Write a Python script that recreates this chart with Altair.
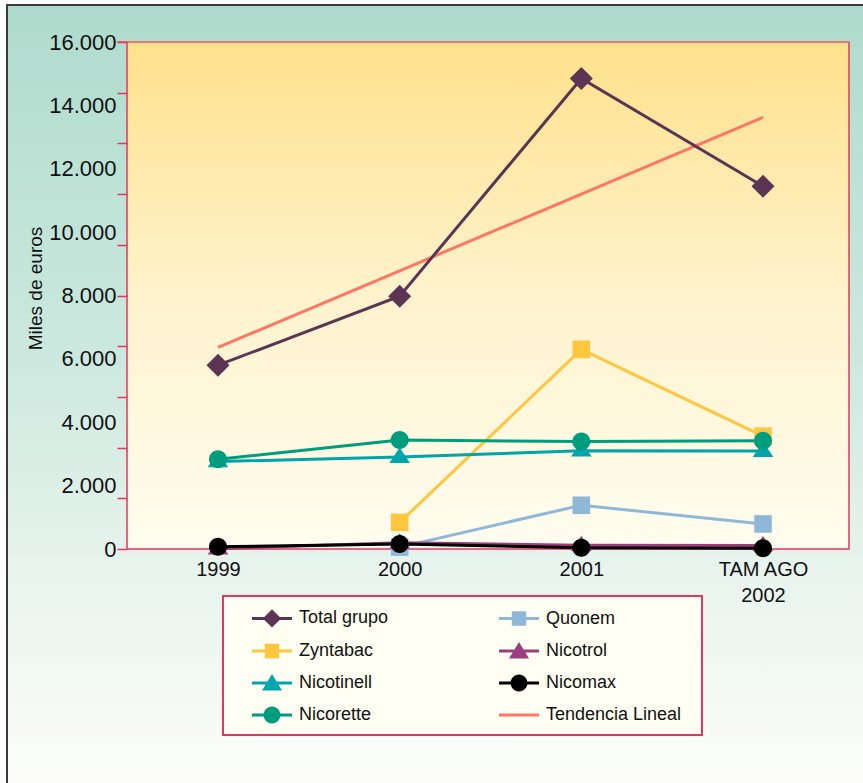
import altair as alt
import pandas as pd

# ---------------- data ----------------
years = ["1999", "2000", "2001", "TAM AGO 2002"]

total_grupo = [5800, 7980, 14850, 11450]
zyntabac = [None, 840, 6300, 3560]
nicotinell = [2760, 2900, 3100, 3090]
nicorette = [2830, 3440, 3390, 3420]
quonem = [None, 60, 1380, 790]
nicotrol = [10, 200, 120, 110]
nicomax = [70, 160, 40, 20]
tendencia_lineal = [6360, 8780, 11200, 13620]

y_label_values = [0, 2000, 4000, 6000, 8000, 10000, 12000, 14000, 16000]
y_tick_values = [0, 1600, 3200, 4800, 6400, 8000, 9600, 11200, 12800, 14400, 16000]

series_values = {
    "Total grupo": total_grupo,
    "Zyntabac": zyntabac,
    "Nicotinell": nicotinell,
    "Nicorette": nicorette,
    "Quonem": quonem,
    "Nicotrol": nicotrol,
    "Nicomax": nicomax,
    "Tendencia Lineal": tendencia_lineal,
}

colors = {
    "Total grupo": "#5b3553",
    "Zyntabac": "#ffc640",
    "Nicotinell": "#00a5ab",
    "Nicorette": "#009c7e",
    "Quonem": "#8fb8d8",
    "Nicotrol": "#9b3d7f",
    "Nicomax": "#000000",
    "Tendencia Lineal": "#ff7666",
}

# marker shapes (unit box, size 400 -> 10 px per unit)
marker_paths = {
    "Total grupo": "M0,-1.15L1.15,0L0,1.15L-1.15,0Z",
    "Zyntabac": "M-0.88,-0.88L0.88,-0.88L0.88,0.88L-0.88,0.88Z",
    "Quonem": "M-0.88,-0.88L0.88,-0.88L0.88,0.88L-0.88,0.88Z",
    "Nicotinell": "M0,-0.95L1.03,0.58L-1.03,0.58Z",
    "Nicotrol": "M0,-0.95L1.03,0.58L-1.03,0.58Z",
    "Nicorette": "M-0.9,0A0.9 0.9 0 1 1 0.9,0A0.9 0.9 0 1 1 -0.9,0Z",
    "Nicomax": "M-0.9,0A0.9 0.9 0 1 1 0.9,0A0.9 0.9 0 1 1 -0.9,0Z",
}

# legend symbols: line + marker (size 1600 -> 20 px per unit)
line_part = "M-1,-0.075L1,-0.075L1,0.075L-1,0.075Z"
legend_paths_map = {
    "Total grupo": line_part + "M0,-0.46L0.46,0L0,0.46L-0.46,0Z",
    "Zyntabac": line_part + "M-0.36,-0.36L0.36,-0.36L0.36,0.36L-0.36,0.36Z",
    "Quonem": line_part + "M-0.36,-0.36L0.36,-0.36L0.36,0.36L-0.36,0.36Z",
    "Nicotinell": line_part + "M0,-0.45L0.5,0.38L-0.5,0.38Z",
    "Nicotrol": line_part + "M0,-0.45L0.5,0.38L-0.5,0.38Z",
    "Nicorette": line_part + "M-0.42,0A0.42 0.42 0 1 1 0.42,0A0.42 0.42 0 1 1 -0.42,0Z",
    "Nicomax": line_part + "M-0.42,0A0.42 0.42 0 1 1 0.42,0A0.42 0.42 0 1 1 -0.42,0Z",
    "Tendencia Lineal": line_part,
}

legend_order = ["Total grupo", "Zyntabac", "Nicotinell", "Nicorette",
                "Quonem", "Nicotrol", "Nicomax", "Tendencia Lineal"]
line_draw_order = ["Tendencia Lineal", "Quonem", "Zyntabac", "Nicotrol",
                   "Nicotinell", "Nicorette", "Nicomax", "Total grupo"]
marker_draw_order = ["Quonem", "Zyntabac", "Nicotrol", "Nicotinell",
                     "Nicorette", "Nicomax", "Total grupo"]

rows = []
for name, vals in series_values.items():
    for yr, v in zip(years, vals):
        if v is not None:
            rows.append({"series": name, "year": yr, "value": v})
df = pd.DataFrame(rows)

FONT = "Liberation Sans"
W, H = 722, 507
BORDER = "#e2375e"

x_scale = alt.Scale(domain=years, range=[91, 636], padding=0)
y_scale = alt.Scale(domain=[0, 16000], nice=False, zero=True)

one = alt.Data(values=[{"k": 1}])

outer_grad = {"gradient": "linear", "x1": 0, "y1": 0, "x2": 0, "y2": 1,
              "stops": [{"offset": 0, "color": "#aedbcd"},
                        {"offset": 0.45, "color": "#cde9df"},
                        {"offset": 0.72, "color": "#e9f4ee"},
                        {"offset": 1, "color": "#fefefa"}]}
plot_grad = {"gradient": "linear", "x1": 0, "y1": 0, "x2": 0, "y2": 1,
             "stops": [{"offset": 0, "color": "#ffe18b"},
                       {"offset": 0.5, "color": "#fff3cd"},
                       {"offset": 1, "color": "#fffdf0"}]}

outer_bg = alt.Chart(one).mark_rect(color=outer_grad, stroke="#3a3a3a", strokeWidth=2).encode(
    x=alt.value(-120), x2=alt.value(760), y=alt.value(-37), y2=alt.value(760))
plot_bg = alt.Chart(one).mark_rect(color=plot_grad, stroke=BORDER, strokeWidth=1.5).encode(
    x=alt.value(0), x2=alt.value(W), y=alt.value(0), y2=alt.value(H))
legend_box = alt.Chart(one).mark_rect(color="#fffff3", stroke=BORDER, strokeWidth=2).encode(
    x=alt.value(96), x2=alt.value(575), y=alt.value(554), y2=alt.value(693))
top_border = alt.Chart(one).mark_rule(color="#e27a7a", strokeWidth=2).encode(
    x=alt.value(-10), x2=alt.value(W), y=alt.value(0))

label_axis = alt.Axis(
    orient="left", values=y_label_values, ticks=False, tickSize=0, domain=False, grid=False,
    labelExpr="replace(format(datum.value, ','), ',', '.')",
    labelFont=FONT, labelFontSize=22, labelColor="#111111", labelPadding=11,
    title="Miles de euros", titleFont=FONT, titleFontSize=19, titleFontWeight="normal",
    titleColor="#111111", titleX=-92, titleY=246, titleAngle=270,
    titleAlign="center", titleBaseline="middle", zindex=2)
tick_axis = alt.Axis(
    orient="left", values=y_tick_values, labels=False, ticks=True, tickSize=10,
    tickColor=BORDER, tickWidth=1.5, domain=False, grid=False, title=None, zindex=2)
x_axis = alt.Axis(
    orient="bottom", ticks=False, domain=False, grid=False, title=None, labelAngle=0,
    labelExpr="datum.value == 'TAM AGO 2002' ? ['TAM AGO', '2002'] : datum.label",
    labelFont=FONT, labelFontSize=20, labelColor="#111111", labelPadding=10,
    labelBaseline="top", labelLineHeight=26, zindex=2)

layers = [outer_bg, plot_bg, legend_box]

for i, s in enumerate(line_draw_order):
    if s == "Tendencia Lineal":
        yax, xax = label_axis, x_axis
    elif i == 1:
        yax, xax = tick_axis, None
    else:
        yax, xax = None, None
    layers.append(
        alt.Chart(df).transform_filter(alt.datum.series == s)
        .mark_line(color=colors[s], strokeWidth=3)
        .encode(x=alt.X("year:N", sort=years, scale=x_scale, axis=xax),
                y=alt.Y("value:Q", scale=y_scale, axis=yax))
    )

for s in marker_draw_order:
    layers.append(
        alt.Chart(df).transform_filter(alt.datum.series == s)
        .mark_point(shape=marker_paths[s], filled=True, size=400, opacity=1,
                    color=colors[s], strokeWidth=0)
        .encode(x=alt.X("year:N", sort=years, scale=x_scale, axis=None),
                y=alt.Y("value:Q", scale=y_scale, axis=None))
    )

leg = alt.Legend(
    title=None, orient="none", legendX=125, legendY=556, columns=2,
    columnPadding=110, rowPadding=3, symbolSize=1600, symbolStrokeWidth=0,
    labelFont=FONT, labelFontSize=18, labelColor="#111111", labelOffset=7,
    padding=0, zindex=3)
legend_layer = (
    alt.Chart(df).transform_filter("false")
    .mark_point(filled=True, opacity=1)
    .encode(color=alt.Color("series:N", scale=alt.Scale(domain=legend_order,
                                                        range=[colors[s] for s in legend_order]),
                            legend=leg),
            shape=alt.Shape("series:N", scale=alt.Scale(domain=legend_order,
                                                        range=[legend_paths_map[s] for s in legend_order]),
                            legend=leg))
)
layers.append(legend_layer)
layers.append(top_border)

chart = (
    alt.layer(*layers)
    .resolve_axis(x="independent", y="independent")
    .properties(width=W, height=H, autosize=alt.AutoSizeParams(type="none"),
                padding={"left": 127, "top": 42, "right": 14, "bottom": 234})
    .configure(background="white")
    .configure_view(stroke=None)
)

chart.save("out.html", embed_options={"renderer": "svg", "actions": False})
